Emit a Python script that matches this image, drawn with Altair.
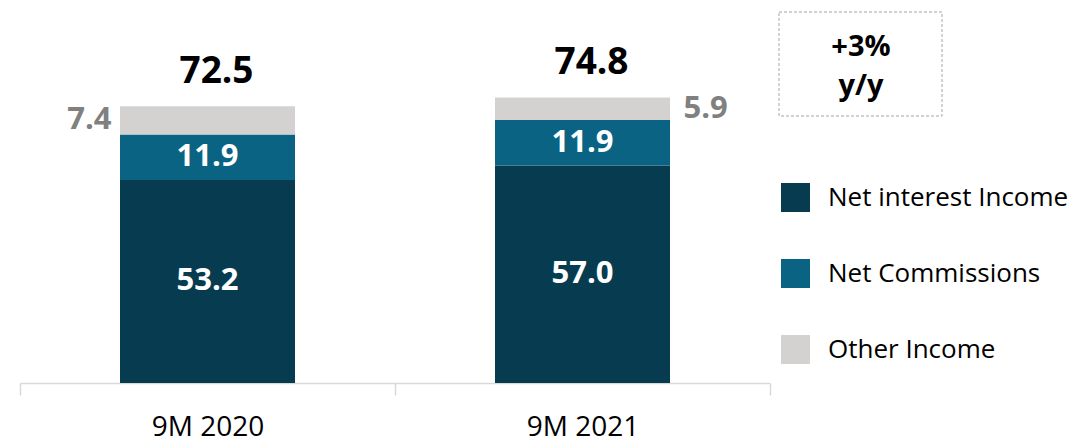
import altair as alt
import pandas as pd

periods = ["9M 2020", "9M 2021"]
series = ["Net interest Income", "Net Commissions", "Other Income"]
nii = [53.2, 57.0]
comm = [11.9, 11.9]
other = [7.4, 5.9]
totals = [72.5, 74.8]
box_lines = ["+3%", "y/y"]
colors = ["#073C50", "#0A6383", "#D3D2D1"]
FONT = "Open Sans"

rows = []
for i, p in enumerate(periods):
    for j, (s, vals) in enumerate(zip(series, [nii, comm, other])):
        rows.append({"period": p, "series": s, "value": vals[i], "ord": j,
                     "label": f"{vals[i]:.1f}"})
df = pd.DataFrame(rows)
tot_df = pd.DataFrame({"period": periods, "total": totals,
                       "label": [f"{t:.1f}" for t in totals]})

xscale = alt.Scale(domain=periods, paddingInner=0, paddingOuter=0)
yscale = alt.Scale(domain=[0, 97.2], nice=False, zero=True)

x_axis = alt.Axis(title=None, labelAngle=0, labelFont=FONT, labelFontSize=28,
                  labelColor="black", domainColor="#D9D9D9", domainWidth=1.5,
                  tickColor="#D9D9D9", tickWidth=1.5, tickSize=12,
                  tickBand="extent", labelPadding=18, grid=False)

X = alt.X("period:N", scale=xscale, axis=x_axis, sort=periods)
Y_none = dict(scale=yscale, axis=None)

base = alt.Chart(df).transform_stack(
    stack="value", as_=["y0", "y1"], groupby=["period"],
    sort=[alt.SortField("ord", order="ascending")]
).transform_calculate(mid="(datum.y0 + datum.y1) / 2")

bars = base.mark_bar(width=alt.RelativeBandSize(175 / 375)).encode(
    x=X,
    y=alt.Y("y0:Q", **Y_none),
    y2="y1:Q",
    color=alt.Color("series:N", scale=alt.Scale(domain=series, range=colors),
                    legend=alt.Legend(title=None, orient="none", legendX=761,
                                      legendY=171, symbolType="square",
                                      symbolSize=841, symbolStrokeWidth=0,
                                      labelFont=FONT, labelFontSize=26,
                                      labelColor="black", rowPadding=47,
                                      labelOffset=18, padding=0,
                                      labelLimit=400, symbolOpacity=1)),
)

inner = base.transform_filter("datum.series != 'Other Income'").mark_text(
    font=FONT, fontSize=31, fontWeight="bold", color="white", baseline="middle"
).encode(x=X, y=alt.Y("mid:Q", **Y_none), text="label:N")

other_l = base.transform_filter(
    "datum.series == 'Other Income' && datum.period == '9M 2020'").mark_text(
    font=FONT, fontSize=31, fontWeight="bold", color="#808080",
    baseline="middle", align="right", dx=-96
).encode(x=X, y=alt.Y("mid:Q", **Y_none), text="label:N")

other_r = base.transform_filter(
    "datum.series == 'Other Income' && datum.period == '9M 2021'").mark_text(
    font=FONT, fontSize=31, fontWeight="bold", color="#808080",
    baseline="middle", align="left", dx=101
).encode(x=X, y=alt.Y("mid:Q", **Y_none), text="label:N")

tot = alt.Chart(tot_df).mark_text(
    font=FONT, fontSize=37, fontWeight="bold", color="black",
    baseline="alphabetic", dy=-23, dx=9
).encode(x=X, y=alt.Y("total:Q", **Y_none), text="label:N")

box = alt.Chart(pd.DataFrame({"k": [0]})).mark_rect(
    fillOpacity=0, stroke="#A6A6A6", strokeDash=[3, 2], strokeWidth=1
).encode(x=alt.value(759), x2=alt.value(922), y=alt.value(0), y2=alt.value(104))

box_t1 = alt.Chart(pd.DataFrame({"t": [box_lines[0]]})).mark_text(
    font=FONT, fontSize=29, fontWeight="bold", color="black",
    baseline="alphabetic", align="center"
).encode(x=alt.value(841), y=alt.value(44), text="t:N")

box_t2 = alt.Chart(pd.DataFrame({"t": [box_lines[1]]})).mark_text(
    font=FONT, fontSize=29, fontWeight="bold", color="black",
    baseline="alphabetic", align="center"
).encode(x=alt.value(841), y=alt.value(83), text="t:N")

chart = alt.layer(bars, inner, other_l, other_r, tot, box, box_t1, box_t2).properties(
    width=750, height=371,
    autosize=alt.AutoSizeParams(type="none"),
    padding={"left": 12, "top": 4, "right": 308, "bottom": 56},
).configure_view(stroke=None).configure_axis(grid=False)

chart.save("out.html", embed_options={"renderer": "svg", "actions": False})
